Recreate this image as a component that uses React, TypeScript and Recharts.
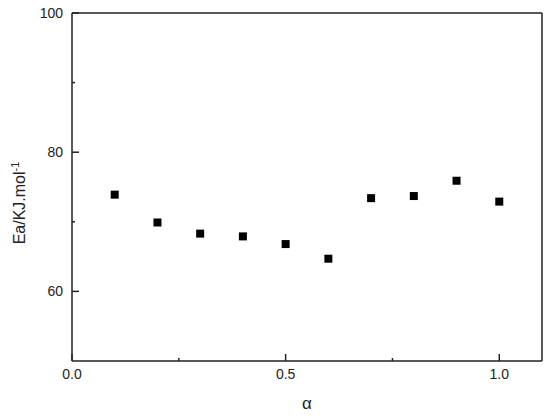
import { ScatterChart, Scatter, XAxis, YAxis, ReferenceLine } from 'recharts';

// conversion degree and activation energy
const alpha = [0.1, 0.2, 0.3, 0.4, 0.5, 0.6, 0.7, 0.8, 0.9, 1.0];
const ea = [73.9, 69.9, 68.3, 67.9, 66.8, 64.7, 73.4, 73.7, 75.9, 72.9];

const xTicks = [0, 0.25, 0.5, 0.75, 1.0];
const xLabelled = [0, 0.5, 1.0];
const yTicks = [60, 70, 80, 90, 100];
const yLabelled = [60, 80, 100];

const font = '"Liberation Sans", Arial, sans-serif';
const ink = '#222';

const data = alpha.map((a, i) => ({ a, ea: ea[i] }));

function YTick(props: any) {
  const { x, y, payload } = props;
  const major = yLabelled.includes(payload.value);
  return (
    <g>
      <line x1={x + 9} x2={x + 9 + (major ? 7 : 3)} y1={y} y2={y} stroke={ink} strokeWidth={1.5} />
      {major && (
        <text x={x} y={y} dy="0.35em" textAnchor="end" fontSize={14} fontFamily={font} fill={ink}>
          {payload.value}
        </text>
      )}
    </g>
  );
}

function XTick(props: any) {
  const { x, y, payload } = props;
  const major = xLabelled.includes(payload.value);
  return (
    <g>
      <line x1={x} x2={x} y1={y - 8} y2={y - 8 - (major ? 7 : 3)} stroke={ink} strokeWidth={1.5} />
      {major && (
        <text x={x} y={y} dy="0.71em" textAnchor="middle" fontSize={14} fontFamily={font} fill={ink}>
          {payload.value.toFixed(1)}
        </text>
      )}
    </g>
  );
}

export default function App() {
  return (
    <div style={{ position: 'absolute', left: 0, top: 0, background: '#fff' }}>
      <ScatterChart width={550} height={418} margin={{ top: 13, right: 8, bottom: 0, left: 0 }}>
        <XAxis
          type="number"
          dataKey="a"
          domain={[0, 1.1]}
          ticks={xTicks}
          interval={0}
          height={57}
          tickSize={0}
          tickMargin={8}
          tickLine={false}
          tick={<XTick />}
          axisLine={{ stroke: ink, strokeWidth: 1.5 }}
          label={({ viewBox }: any) => (
            <text
              x={viewBox.x + viewBox.width / 2}
              y={viewBox.y + 48}
              textAnchor="middle"
              fontSize={17}
              fontFamily={font}
              fill={ink}
            >
              α
            </text>
          )}
        />
        <YAxis
          type="number"
          dataKey="ea"
          domain={[50, 100]}
          ticks={yTicks}
          interval={0}
          width={72}
          tickSize={0}
          tickMargin={9}
          tickLine={false}
          tick={<YTick />}
          axisLine={{ stroke: ink, strokeWidth: 1.5 }}
          label={({ viewBox }: any) => {
            const cy = viewBox.y + viewBox.height / 2 + 16;
            return (
              <text
                x={25}
                y={cy}
                transform={`rotate(-90, 25, ${cy})`}
                textAnchor="middle"
                fontSize={16}
                fontFamily={font}
                fill={ink}
              >
                Ea/KJ.mol
                <tspan dy={-6} fontSize={11}>-1</tspan>
              </text>
            );
          }}
        />
        <ReferenceLine y={100} stroke={ink} strokeWidth={1.5} />
        <ReferenceLine x={1.1} stroke={ink} strokeWidth={1.5} />
        <Scatter
          data={data}
          isAnimationActive={false}
          shape={(p: any) => <rect x={p.cx - 4} y={p.cy - 4} width={8} height={8} fill="#000" />}
        />
      </ScatterChart>
    </div>
  );
}
